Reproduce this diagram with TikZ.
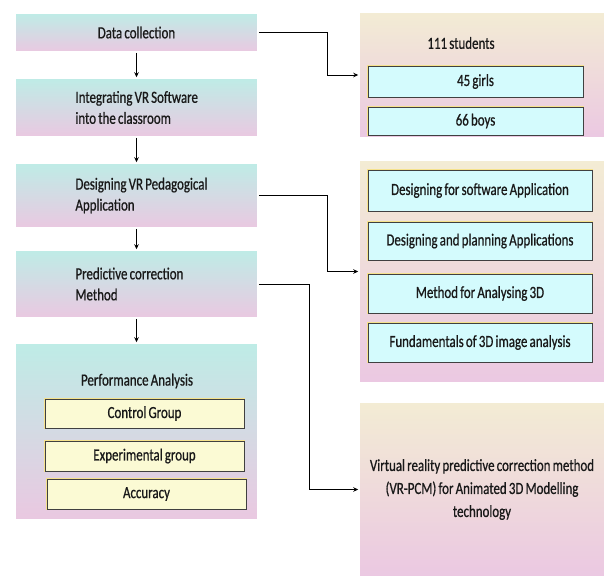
\documentclass[tikz,border=0pt]{standalone}
\usepackage{fontspec}
\setmainfont[FakeStretch=0.76, WordSpace=0.75, FakeBold=0.7]{Carlito}
\usepackage{tikz}
\usetikzlibrary{
  arrows.meta,
  positioning,
  shadows
}
\definecolor{stepcyan}{RGB}{190, 236, 230}
\definecolor{steppink}{RGB}{234, 200, 225}
\definecolor{sidebeige}{RGB}{243, 236, 212}
\definecolor{sidepink}{RGB}{235, 200, 226}
\definecolor{itemcyan}{RGB}{212, 251, 253}
\definecolor{itemyellow}{RGB}{251, 250, 212}
\definecolor{glowcolor}{RGB}{246, 226, 140}
\definecolor{edgecolor}{RGB}{196, 160, 186}
\definecolor{labelcolor}{RGB}{25, 25, 25}
\tikzset{
blocktext/.style={
  font=\fontsize{17}{21}\selectfont,
  text=labelcolor
},
steptext/.style={
  blocktext,
  anchor=west,
  align=left,
  inner sep=0pt
},
framebox/.style={
  draw=white,
  line width=1.5pt,
  drop shadow={shadow xshift=0.8pt, shadow yshift=-1.2pt, fill=black!22},
  path picture={
    \draw[edgecolor, line width=2.5pt]
      (path picture bounding box.south west) -- (path picture bounding box.south east);
  },
  inner sep=0pt,
  blocktext
},
stepbox/.style={
  framebox,
  top color=stepcyan,
  bottom color=steppink,
  minimum width=243pt
},
sidebox/.style={
  framebox,
  top color=sidebeige,
  bottom color=sidepink,
  minimum width=246pt
},
itembox/.style={
  draw=black!75,
  line width=0.8pt,
  preaction={draw=glowcolor, line width=2.8pt},
  inner sep=0pt,
  blocktext
},
cyanitem/.style={
  itembox,
  fill=itemcyan
},
yellowitem/.style={
  itembox,
  fill=itemyellow
},
arrow/.style={
  -{Stealth[length=5pt,width=4.5pt]},
  line width=1pt,
  draw=black
}
}
\begin{document}
\begin{tikzpicture}[x=1pt,y=-1pt]
\useasboundingbox (0,0) rectangle (609,581);

% left column
\node[stepbox, minimum height=39pt, align=center] (collect) at (136.5,32.5) {Data collection};
\node[stepbox, minimum height=59pt] (integrate) at (136.5,107.5) {};
\node[steptext] (integratetext) at ([xshift=61pt]integrate.west) {Integrating VR Software\\ into the classroom};
\node[stepbox, minimum height=65pt] (design) at (136.5,195.5) {};
\node[steptext] (designtext) at ([xshift=61pt]design.west) {Designing VR Pedagogical\\Application};
\node[stepbox, minimum height=68pt] (predict) at (136.5,284) {};
\node[steptext] (predicttext) at ([xshift=61pt]predict.west) {Predictive correction\\Method};
\node[stepbox, minimum height=177pt] (perf) at (136.5,431.5) {};
\node[blocktext] (perftitle) at (137,381) {Performance Analysis};
\node[yellowitem, minimum width=199pt, minimum height=29pt] (control) at (144.5,413.5) {Control Group};
\node[yellowitem, minimum width=199pt, minimum height=30pt] (experiment) at (144.5,456) {Experimental group};
\node[yellowitem, minimum width=199pt, minimum height=30pt] (accuracy) at (146.5,494) {Accuracy};

% right column
\node[sidebox, minimum height=126pt] (students) at (482,75) {};
\node[blocktext] (studtitle) at (461,43) {111 students};
\node[cyanitem, minimum width=215pt, minimum height=31pt] (girls) at (475.5,81.5) {45 girls};
\node[cyanitem, minimum width=215pt, minimum height=28pt] (boys) at (475.5,121) {66 boys};

\node[sidebox, minimum height=223pt] (topics) at (482,271.5) {};
\node[cyanitem, minimum width=224pt, minimum height=41pt] (software) at (480,190.5) {Designing for software Application};
\node[cyanitem, minimum width=224pt, minimum height=38pt] (planning) at (480,241) {Designing and planning Applications};
\node[cyanitem, minimum width=224pt, minimum height=39pt] (analysing) at (480,293.5) {Method for Analysing 3D};
\node[cyanitem, minimum width=224pt, minimum height=39pt] (fundamentals) at (480,342.5) {Fundamentals of 3D image analysis};

\node[sidebox, minimum height=175pt, align=center, font=\fontsize{17}{23}\selectfont] (vrpcm) at (482,489.5)
  {Virtual reality predictive correction method\\(VR-PCM) for Animated 3D Modelling\\technology};

% connectors
\draw[arrow] (collect) -- (integrate);
\draw[arrow] (integrate) -- (design);
\draw[arrow] (design) -- (predict);
\draw[arrow] (predict) -- (perf);
\draw[arrow] (collect.east) -- ++(69,0) |- (students.west);
\draw[arrow] (design.east) -- ++(69,0) |- (topics.west);
\draw[arrow] (predict.east) -- ++(51,0) |- (vrpcm.west);
\end{tikzpicture}
\end{document}
